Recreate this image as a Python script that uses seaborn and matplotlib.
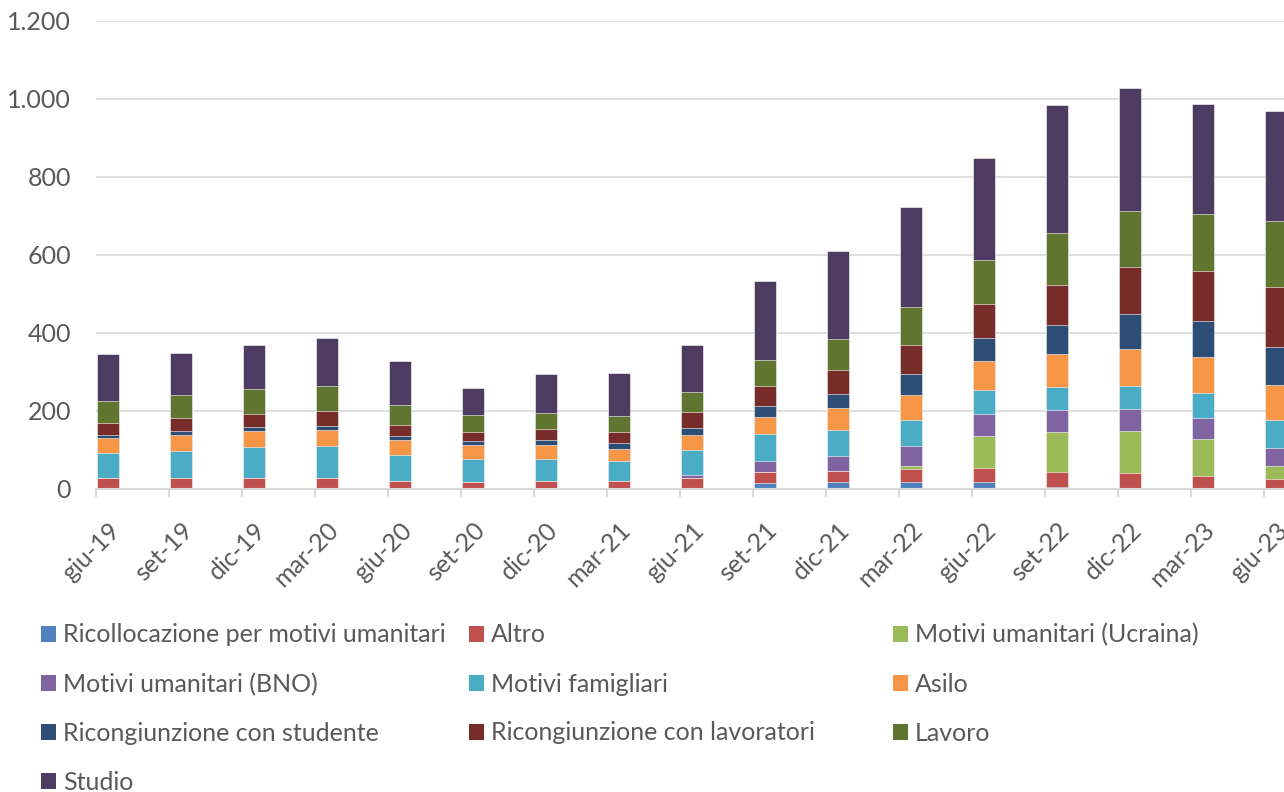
import numpy as np
import pandas as pd
import seaborn as sns
import matplotlib.pyplot as plt
from matplotlib.patches import Patch

periods = ['giu-19', 'set-19', 'dic-19', 'mar-20', 'giu-20', 'set-20', 'dic-20', 'mar-21',
           'giu-21', 'set-21', 'dic-21', 'mar-22', 'giu-22', 'set-22', 'dic-22', 'mar-23', 'giu-23']

# values (stack order, bottom to top)
ricollocazione = [1, 1, 1, 1, 1, 1, 1, 1, 1, 16, 17, 18, 18, 6, 3, 2, 1]
altro = [26, 26, 28, 26, 20, 16, 20, 20, 26, 28, 28, 33, 36, 37, 37, 31, 25]
ucraina = [0, 0, 0, 0, 0, 0, 0, 0, 0, 0, 0, 7, 82, 104, 110, 96, 34]
bno = [0, 0, 0, 0, 0, 0, 0, 0, 8, 29, 40, 51, 57, 55, 55, 53, 46]
famigliari = [65, 71, 78, 82, 67, 59, 55, 51, 66, 69, 67, 67, 60, 59, 60, 63, 71]
asilo = [40, 41, 42, 43, 38, 38, 36, 31, 37, 43, 55, 65, 75, 86, 93, 93, 90]
ric_studente = [6, 9, 9, 10, 11, 8, 13, 15, 18, 28, 37, 55, 58, 73, 92, 93, 96]
ric_lavoratori = [32, 35, 35, 39, 28, 25, 28, 29, 41, 52, 62, 72, 88, 102, 118, 127, 154]
lavoro = [56, 57, 63, 63, 50, 42, 41, 41, 53, 67, 78, 99, 112, 134, 145, 147, 169]
studio = [120, 110, 112, 124, 114, 69, 101, 109, 119, 201, 226, 256, 262, 329, 315, 283, 282]

labels = ['Ricollocazione per motivi umanitari', 'Altro', 'Motivi umanitari (Ucraina)',
          'Motivi umanitari (BNO)', 'Motivi famigliari', 'Asilo',
          'Ricongiunzione con studente', 'Ricongiunzione con lavoratori', 'Lavoro', 'Studio']
colors = ['#4F81BD', '#C0504D', '#9BBB59', '#8064A2', '#4BACC6', '#F79646',
          '#2C4D75', '#772C2A', '#5F7530', '#4D3B62']
series = [ricollocazione, altro, ucraina, bno, famigliari, asilo,
          ric_studente, ric_lavoratori, lavoro, studio]

df = pd.DataFrame(dict(zip(labels, series)), index=periods)
cum = df.cumsum(axis=1)

sns.set_theme(style='white')
plt.rcParams['font.family'] = ['Lato', 'DejaVu Sans']
txt = '#595959'
grid = '#D9D9D9'
fs = 18

fig = plt.figure(figsize=(12.84, 7.92), dpi=100)
ax = fig.add_axes([96 / 1284, 1 - 489 / 792, 1 - 96 / 1284, 468 / 792])

# stacked bars: draw cumulative totals from top layer down
for lab, col in zip(labels[::-1], colors[::-1]):
    sns.barplot(x=periods, y=cum[lab].values, color=col, saturation=1, width=0.31,
                edgecolor='white', linewidth=0.4, ax=ax, zorder=3)

ax.set_ylim(0, 1200)
ax.set_xlim(-0.164, 16.11)
ax.set_yticks(range(0, 1201, 200))
ax.set_yticklabels([f'{v:,}'.replace(',', '.') for v in range(0, 1201, 200)])
ax.yaxis.grid(True, color=grid, linewidth=1.2, zorder=0)
ax.set_axisbelow(True)
for s in ['top', 'right', 'left']:
    ax.spines[s].set_visible(False)
ax.spines['bottom'].set_color(grid)
ax.spines['bottom'].set_linewidth(1.5)
ax.spines['bottom'].set_zorder(4)

ax.set_xticks(range(len(periods)))
ax.set_xticklabels(periods, rotation=45, ha='right', rotation_mode='anchor')
ax.set_xticks(np.arange(len(periods)) - 0.164, minor=True)
ax.tick_params(axis='x', which='major', length=0, pad=21, labelsize=fs, labelcolor=txt)
ax.tick_params(axis='x', which='minor', length=6, width=1.5, color=grid, bottom=True)
ax.tick_params(axis='y', length=0, pad=18, labelsize=fs, labelcolor=txt)
ax.set_xlabel('')
ax.set_ylabel('')

# legend: three columns placed like the original
cols = [[0, 3, 6, 9], [1, 4, 7], [2, 5, 8]]
xs = [33, 461, 885]
for idx, x0 in zip(cols, xs):
    handles = [Patch(facecolor=colors[i], edgecolor='none') for i in idx]
    leg = fig.legend(handles, [labels[i] for i in idx], loc='upper left',
                     bbox_to_anchor=(x0 / 1284, 1 - 616 / 792), frameon=False,
                     fontsize=fs, labelcolor=txt, handlelength=0.62, handleheight=0.62,
                     handletextpad=0.28, labelspacing=1.04, borderaxespad=0, borderpad=0.3)

fig.savefig('out.png', dpi=100)
